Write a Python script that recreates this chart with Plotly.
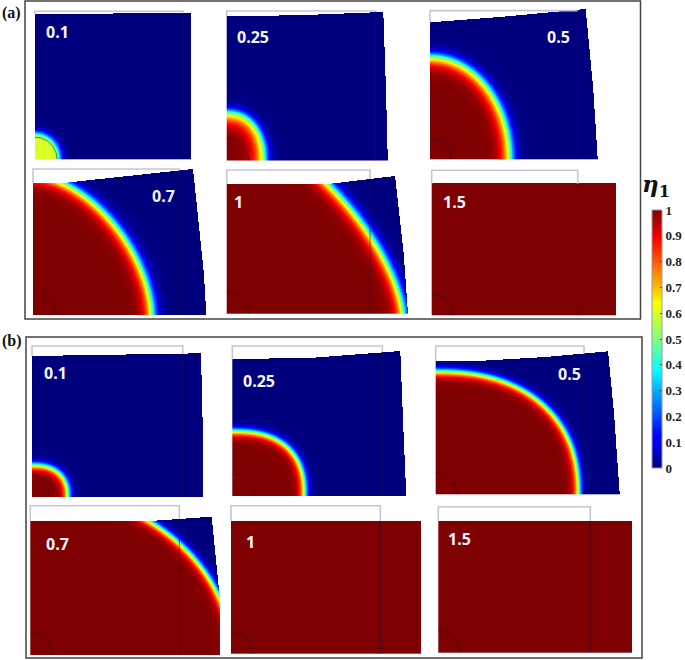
import numpy as np
import plotly.graph_objects as go

W_FIG, H_FIG = 685, 660

# ---- values: lengths in image pixels, from each specimen's lower-left corner ----
labels = ["0.1", "0.25", "0.5", "0.7", "1", "1.5"] * 2
ref_w = [148, 149, 147.3, 145.7, 143.3, 146, 150.7, 150, 148.3, 149, 149.3, 152]
ref_h = [148, 149.5, 148.7, 146, 143.7, 145, 151, 150, 148.3, 149.3, 148, 146]
seed_r = [22, 22, 21, 22, 22, 21, 22, 22, 22, 22, 22, 22]
peak = [0.6, 1, 1, 1, 1, 1, 1, 1, 1, 1, 1, 1]
w_out = [4.5, 6.0, 6.5, 6.5, 6.5, 4, 4.5, 4.5, 4.5, 4.5, 3, 3]
w_in = [3.0, 11.0, 9.0, 8.0, 8.0, 4, 5.5, 5.5, 5.5, 5.5, 3, 3]

top_x = [
    [0, 156], [0, 78, 156], [0, 70, 155.7], [0, 30, 160], [0, 101, 168], [0, 184],
    [0, 169], [0, 84, 168.3], [0, 50, 110, 172], [0, 120, 181.7], [0, 190], [0, 193.7],
]
top_y = [
    [145, 146], [144.5, 146, 149], [136.7, 142, 150], [132, 132, 146], [130, 130, 138], [131.6, 131.6],
    [141, 143.7], [136.7, 138.5, 145], [132.7, 133.5, 137, 142.7], [134, 134, 138.3], [133, 133], [131.7, 131.7],
]
right_x = [
    [156, 156.5], [156.3, 159, 160.8], [155.7, 163.3, 167.7], [160, 166.7, 171, 173.3], [168, 176.7, 181], [184, 184],
    [169, 170.5, 170.7], [168.3, 171, 174.3], [172, 178, 183.7], [181.7, 189.7, 189.7], [190, 190], [193.7, 193.7],
]
right_y = [
    [146, 0], [149, 70, 0], [150, 69, 0], [146, 82, 40, 0], [138, 60, 0], [131.6, 0],
    [143.7, 80, 0], [145, 76, 0], [142.7, 81, 0], [138.3, 58, 0], [133, 0], [131.7, 0],
]
# transformation front: reach along the bottom, reach along the left side, squareness (0 = fully transformed)
front_a = [25, 37, 80, 119, 176, 0, 36, 72.7, 142.7, 202, 0, 0]
front_b = [26, 48, 102, 140, 190, 0, 32, 65, 122.7, 166, 0, 0]
front_n = [2, 2.2, 2, 1.7, 1.5, 0, 2.4, 2.5, 2.3, 2, 0, 0]
cbar_ticks = [0, 0.1, 0.2, 0.3, 0.4, 0.5, 0.6, 0.7, 0.8, 0.9, 1]
cbar_text = ["0", "0.1", "0.2", "0.3", "0.4", "0.5", "0.6", "0.7", "0.8", "0.9", "1"]

# ---- layout placement ----
panel_left = [35, 226.7, 430, 33, 226.7, 431.7, 32, 232.3, 435.7, 30.3, 231, 438.3]
panel_bottom = [159.3, 160.5, 159.3, 315, 313.7, 315.3, 497, 496, 494.3, 655, 653.7, 652.7]
label_cx = [57, 253, 558, 163, 239, 454, 55, 259, 569, 57, 250, 459]
label_cy = [32, 37, 37, 196, 202, 202, 373, 381, 374, 544, 542, 539]
PAD, AX_W, AX_H = 3, 215, 156

JET = [[0, "#00007f"], [0.11, "#0000ff"], [0.125, "#0000ff"], [0.34, "#00d8ff"], [0.375, "#00ffff"],
       [0.5, "#7fff7f"], [0.64, "#ffff00"], [0.66, "#ffe600"], [0.89, "#ff0000"], [1, "#7f0000"]]


def px(x):
    return x / W_FIG


def py(y):
    return 1 - y / H_FIG


def field(i):
    xs = np.arange(0.5, max(right_x[i]) + 1, 1.0)
    ys = np.arange(0.5, max(top_y[i]) + 1, 1.0)
    X, Y = np.meshgrid(xs, ys)
    if front_n[i] == 0:
        Z = np.ones_like(X)
    else:
        th = np.arctan2(Y, X)
        n = front_n[i]
        R = ((np.cos(th) / front_a[i]) ** n + (np.sin(th) / front_b[i]) ** n) ** (-1 / n)
        d = np.hypot(X, Y) - R
        Z = peak[i] * 0.5 * (1 - np.tanh(np.where(d > 0, d / w_out[i], d / w_in[i])))
    top = np.interp(X, top_x[i], top_y[i])
    right = np.interp(Y, right_y[i][::-1], right_x[i][::-1])
    Z = np.where((Y <= top) & (X <= right), Z, np.nan)
    return xs, ys, Z


fig = go.Figure()
layout_axes = {}
annotations = []
for i in range(12):
    sfx = "" if i == 0 else str(i + 1)
    xa, ya = "x" + sfx, "y" + sfx
    l, b = panel_left[i], panel_bottom[i]
    layout_axes["xaxis" + sfx] = dict(domain=[px(l - PAD), px(l + AX_W)], range=[-PAD, AX_W], visible=False,
                                      anchor=ya, fixedrange=True)
    layout_axes["yaxis" + sfx] = dict(domain=[py(b + PAD), py(b - AX_H)], range=[-PAD, AX_H], visible=False,
                                      anchor=xa, fixedrange=True)
    xs, ys, Z = field(i)
    fig.add_trace(go.Heatmap(x=xs, y=ys, z=Z, coloraxis="coloraxis", xaxis=xa, yaxis=ya, hoverinfo="skip"))
    w, h = ref_w[i], ref_h[i]
    left_top = float(np.interp(0, top_x[i], top_y[i]))
    right_top = float(np.interp(w, top_x[i], top_y[i]))
    fig.add_trace(go.Scatter(x=[0, 0, w, w], y=[left_top, h, h, right_top], mode="lines",
                             line=dict(color="#c4c6d6", width=1.6), xaxis=xa, yaxis=ya,
                             hoverinfo="skip", showlegend=False))
    fig.add_trace(go.Scatter(x=[w, w], y=[right_top, 0], mode="lines",
                             line=dict(color="rgba(25,15,60,0.55)", width=1), xaxis=xa, yaxis=ya,
                             hoverinfo="skip", showlegend=False))
    ang = np.radians(np.arange(0, 91, 5))
    fig.add_trace(go.Scatter(x=seed_r[i] * np.cos(ang), y=seed_r[i] * np.sin(ang), mode="lines",
                             line=dict(color="rgba(25,15,50,0.5)", width=1), xaxis=xa, yaxis=ya,
                             hoverinfo="skip", showlegend=False))
    annotations.append(dict(text="<b>%s</b>" % labels[i], x=px(label_cx[i]), y=py(label_cy[i]), xref="paper",
                            yref="paper", showarrow=False, xanchor="center", yanchor="middle",
                            font=dict(family="Open Sans", size=16, color="#f4f6ff")))

annotations += [
    dict(text="<b>(a)</b>", x=px(0), y=py(13), xref="paper", yref="paper", showarrow=False, xanchor="left",
         yanchor="middle", font=dict(family="Liberation Serif", size=16, color="#111")),
    dict(text="<b>(b)</b>", x=px(0), y=py(341), xref="paper", yref="paper", showarrow=False, xanchor="left",
         yanchor="middle", font=dict(family="Liberation Serif", size=16, color="#111")),
    dict(text="<b><i>η</i><sub>1</sub></b>", x=px(656), y=py(186), xref="paper", yref="paper", showarrow=False,
         xanchor="center", yanchor="middle", font=dict(family="DejaVu Serif", size=23, color="#111")),
]

frames = [(25, 1, 640.5, 319), (26, 337, 642, 658)]
shapes = [dict(type="rect", xref="paper", yref="paper", x0=px(a), x1=px(c), y0=py(d), y1=py(b),
               line=dict(color="#444", width=1.5)) for a, b, c, d in frames]

fig.update_layout(
    width=W_FIG, height=H_FIG, margin=dict(l=0, r=0, t=0, b=0), autosize=False,
    paper_bgcolor="white", plot_bgcolor="rgba(0,0,0,0)", showlegend=False,
    shapes=shapes, annotations=annotations,
    coloraxis=dict(cmin=0, cmax=1, colorscale=JET, colorbar=dict(
        x=px(651.5), xanchor="left", y=py(468), yanchor="bottom", len=258, lenmode="pixels",
        thickness=10, thicknessmode="pixels", xpad=0, ypad=0, outlinecolor="#9a9aa8", outlinewidth=1,
        tickvals=cbar_ticks, ticktext=cbar_text, ticks="inside", ticklen=2, tickcolor="#333",
        tickfont=dict(family="Liberation Serif", size=13, color="#222", weight=700),
    )),
    **layout_axes,
)
fig.write_html("out.html", config={"displayModeBar": False},
               post_script="document.body.style.margin='0';document.documentElement.style.overflow='hidden';")
